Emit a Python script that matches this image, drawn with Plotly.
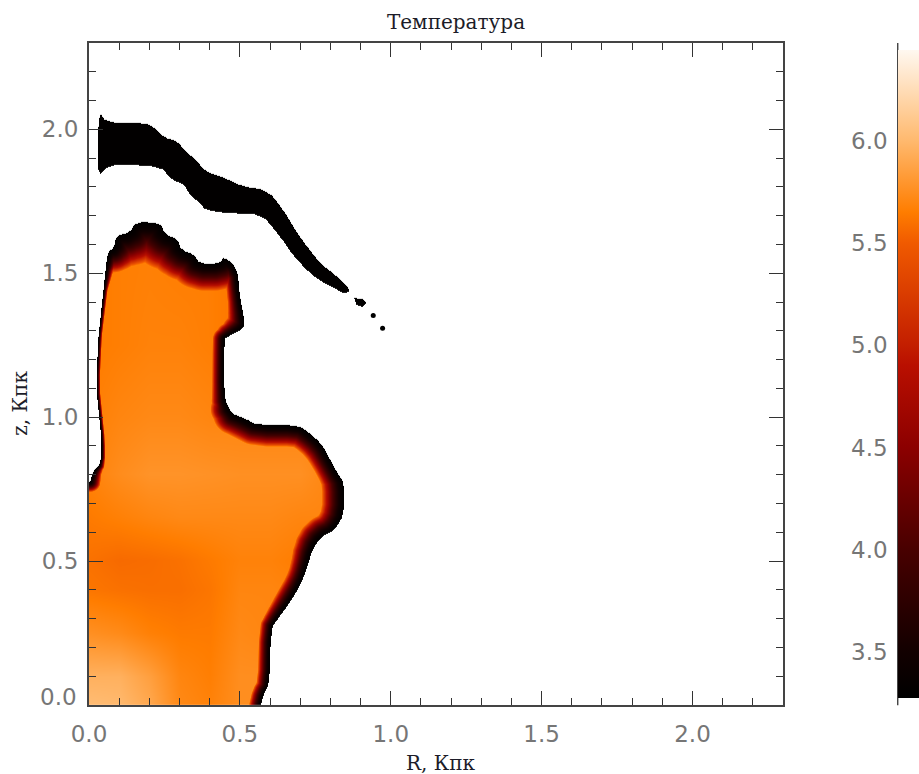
import numpy as np
import plotly.graph_objects as go

# Hot region outline (R, z in Kpc) with rim thickness in Kpc
hot_r = [.568,.577,.596,.601,.624,.668,.701,.717,.740,.767,.811,.844,.844,.822,.795,.767,.723,.690,.557,.513,.469,.445,.447,.449,.513,.513,.496,.491,.447,.430,.364,.347,.303,.292,.248,.237,.154,.132,.088,.082,.060,.051,.032,.029,.022,.032,.040,.038,.011,.002]
hot_z = [0,.041,.074,.266,.301,.364,.424,.469,.545,.585,.608,.666,.770,.805,.857,.910,.950,.973,.973,.997,1.014,1.072,1.269,1.275,1.310,1.339,1.432,1.513,1.559,1.534,1.534,1.565,1.582,1.617,1.638,1.675,1.679,1.640,1.632,1.588,1.576,1.489,1.304,1.269,1.107,1.002,.921,.840,.811,.776]
hot_rim = [.04,.04,.04,.04,.045,.055,.055,.055,.065,.07,.07,.075,.075,.065,.065,.07,.07,.075,.075,.075,.07,.04,.04,.04,.065,.055,.04,.05,.10,.095,.095,.10,.105,.115,.125,.13,.13,.12,.10,.09,.06,.015,.012,.012,.012,.012,.012,.015,.03,.035]

# Cold shell outline
shell_r = [.027,.032,.055,.182,.215,.248,.292,.320,.353,.380,.447,.502,.590,.645,.690,.767,.800,.867,.844,.811,.767,.723,.668,.635,.568,.469,.386,.364,.331,.314,.270,.237,.093,.055,.029]
shell_z = [1.942,2.064,2.023,2.023,2.006,1.971,1.959,1.919,1.896,1.855,1.832,1.803,1.789,1.716,1.635,1.530,1.507,1.443,1.429,1.449,1.472,1.507,1.571,1.623,1.708,1.708,1.719,1.745,1.774,1.809,1.826,1.872,1.878,1.867,1.838]
blob_r = [.877,.905,.918,.905,.883]
blob_z = [1.414,1.411,1.397,1.383,1.391]
dot_r = [.942,.973]
dot_z = [1.353,1.309]

# Interior log-temperature read through the colour scale
table_r = [0,.1,.2,.3,.4,.5,.6,.7,.8]
table_z = [0,.1,.25,.4,.5,.65,.8,1.0,1.25,1.5,1.7]
table_T = [
 [6.02,6.00,5.90,5.72,5.68,5.75,5.75,5.72,5.70],
 [5.95,5.95,5.85,5.70,5.66,5.75,5.75,5.72,5.70],
 [5.76,5.73,5.67,5.64,5.64,5.72,5.70,5.70,5.70],
 [5.62,5.60,5.59,5.59,5.62,5.70,5.70,5.68,5.68],
 [5.60,5.57,5.58,5.60,5.64,5.68,5.68,5.65,5.65],
 [5.64,5.67,5.70,5.72,5.72,5.72,5.72,5.70,5.70],
 [5.68,5.74,5.78,5.78,5.77,5.76,5.76,5.76,5.70],
 [5.66,5.70,5.72,5.72,5.70,5.70,5.70,5.70,5.70],
 [5.64,5.66,5.68,5.68,5.66,5.62,5.60,5.60,5.60],
 [5.64,5.66,5.67,5.66,5.66,5.62,5.60,5.60,5.60],
 [5.64,5.66,5.67,5.66,5.66,5.60,5.60,5.60,5.60],
]
T_min, T_max = 3.275, 6.444
T_cold = 3.3
tick_major = [0, .5, 1, 1.5, 2]
tick_labels = ["0.0", "0.5", "1.0", "1.5", "2.0"]
bar_ticks = [3.5, 4, 4.5, 5, 5.5, 6]
bar_labels = ["3.5", "4.0", "4.5", "5.0", "5.5", "6.0"]

colorscale = [[0,"rgb(0,0,0)"],[.071,"rgb(18,0,0)"],[.229,"rgb(72,0,0)"],[.387,"rgb(140,0,0)"],
              [.513,"rgb(185,15,0)"],[.544,"rgb(195,30,0)"],[.702,"rgb(240,90,0)"],[.75,"rgb(255,125,0)"],
              [.86,"rgb(255,185,110)"],[1,"rgb(255,248,240)"]]

R = np.arange(0, 1.0, 1/302)
Z = np.arange(0, 2.1, 1/288)
rr, zz = np.meshgrid(R, Z)

def corner_cut(points, closed):
    """Round the hand-read outline's corners (Chaikin), leaving open ends in place."""
    p = np.asarray(points, float).T
    for _ in range(1):
        q = np.roll(p, -1, axis=0) if closed else p[1:]
        b = p if closed else p[:-1]
        mid = np.empty((2*len(b), p.shape[1]))
        mid[0::2] = .75*b + .25*q
        mid[1::2] = .25*b + .75*q
        p = mid if closed else np.vstack([p[:1], mid, p[-1:]])
    return p.T

def inside(px, pz):
    px, pz = np.asarray(px), np.asarray(pz)
    res = np.zeros(rr.shape, bool)
    for i in range(len(px)):
        j = (i + 1) % len(px)
        c = (pz[i] > zz) != (pz[j] > zz)
        with np.errstate(divide="ignore", invalid="ignore"):
            xc = px[i] + (zz - pz[i]) * (px[j] - px[i]) / (pz[j] - pz[i])
        res ^= c & (rr < xc)
    return res

interp_rows = np.array([np.interp(R, table_r, row) for row in table_T])
T_in = np.array([np.interp(Z, table_z, interp_rows[:, k]) for k in range(len(R))]).T

hr, hz, hw = corner_cut([hot_r, hot_z, hot_rim], False)
sr, sz = corner_cut([shell_r, shell_z], True)

u = np.full(rr.shape, 9.0)
for i in range(len(hr) - 1):
    ax, az, bx, bz = hr[i], hz[i], hr[i+1], hz[i+1]
    dx, dz = bx-ax, bz-az
    t = np.clip(((rr-ax)*dx + (zz-az)*dz) / (dx*dx + dz*dz), 0, 1)
    d = np.hypot(rr-(ax+t*dx), zz-(az+t*dz))
    w = hw[i] + t*(hw[i+1]-hw[i])
    u = np.minimum(u, d/w)
u = np.clip(u, 0, 1)

field = np.full(rr.shape, np.nan)
hot_mask = inside(list(hr) + [0, 0], list(hz) + [.776, 0])
field[hot_mask] = (T_cold + (T_in - T_cold) * u**1.8)[hot_mask]
field[inside(sr, sz)] = T_cold
field[inside(blob_r, blob_z)] = T_cold

W, H = 919, 774
L, Rgt, Top, Bot = 88.5, 782.7, 43, 704.7
BAR_BOTTOM, BAR_TOP = 698, 50
def px_x(p): return (p-L)/(Rgt-L)
def px_y(p): return (Bot-p)/(Bot-Top)

TICK_FONT = dict(family="DejaVu Sans ExtraLight, DejaVu Sans", size=23, color="#767676")
LABEL_FONT = dict(family="DejaVu Serif", size=20, color="#1c1c28")

fig = go.Figure()
fig.add_trace(go.Heatmap(
    x=R, y=Z, z=field, zmin=T_min, zmax=T_max, colorscale=colorscale, hoverongaps=False, zsmooth="best",
    colorbar=dict(
        thickness=21, thicknessmode="pixels", len=BAR_BOTTOM-BAR_TOP, lenmode="pixels",
        x=px_x(898), xanchor="left", xpad=0, y=px_y(BAR_BOTTOM), yanchor="bottom", ypad=0,
        tickvals=bar_ticks, ticktext=["" for _ in bar_ticks], ticks="",
        outlinewidth=0, borderwidth=0,
    ),
))
fig.add_trace(go.Scatter(x=dot_r, y=dot_z, mode="markers", marker=dict(color="black", size=5), showlegend=False))

axis_common = dict(
    range=[0, 2.3], tickvals=tick_major, ticks="inside", ticklen=14, tickwidth=1.3, tickcolor="#333",
    minor=dict(dtick=.1, ticks="inside", ticklen=7, tickwidth=1.3, tickcolor="#333"),
    showgrid=False, zeroline=False, showline=True, linecolor="#444", linewidth=2, mirror="allticks",
    tickfont=TICK_FONT,
)

annotations = [
    dict(text="R, Кпк", x=px_x(441), y=px_y(763), xref="paper", yref="paper", showarrow=False,
         xanchor="center", yanchor="middle", font=LABEL_FONT),
    dict(text="z, Кпк", x=px_x(20), y=px_y(403), xref="paper", yref="paper", showarrow=False, textangle=-90,
         xanchor="center", yanchor="middle", font=LABEL_FONT),
    dict(text=tick_labels[0], x=px_x(78), y=px_y(697), xref="paper", yref="paper", showarrow=False,
         xanchor="right", yanchor="middle", font=TICK_FONT),
]
for tick, label in zip(bar_ticks, bar_labels):
    y_px = BAR_BOTTOM - (tick - T_min) * (BAR_BOTTOM - BAR_TOP) / (T_max - T_min)
    annotations.append(dict(text=label, x=px_x(890), y=px_y(y_px), xref="paper", yref="paper", showarrow=False,
                            xanchor="right", yanchor="middle", font=TICK_FONT))

fig.update_layout(
    width=W, height=H, paper_bgcolor="white", plot_bgcolor="white", showlegend=False,
    margin=dict(l=L, r=W-Rgt, t=Top, b=H-Bot, autoexpand=False),
    title=dict(text="Температура", x=456/W, xref="container", xanchor="center", y=1-22/H, yanchor="middle",
               font=LABEL_FONT),
    xaxis=dict(axis_common, ticktext=tick_labels, ticklabelstandoff=7),
    yaxis=dict(axis_common, ticktext=["", *tick_labels[1:]], ticklabelstandoff=4),
    annotations=annotations,
    shapes=[
        dict(type="line", xref="paper", yref="paper", x0=px_x(897.5), x1=px_x(897.5), y0=px_y(43), y1=px_y(705),
             line=dict(color="#222", width=1.2)),
    ],
)
fig.write_html("out.html", config=dict(displayModeBar=False), post_script="document.body.style.margin='0';")
